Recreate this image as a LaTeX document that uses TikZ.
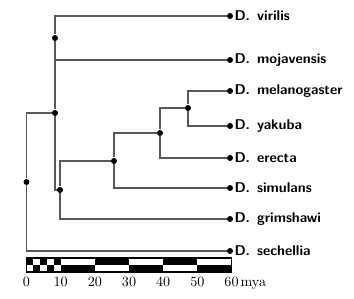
\documentclass[tikz,border=0pt]{standalone}
\usetikzlibrary{positioning}
\tikzset{every picture/.style={line width=0.75pt}}
\tikzset{
  branch/.style={draw=black!65, line width=1pt},
  knot/.style={circle, fill=black, inner sep=0pt, minimum size=4.5pt},
  taxon/.style={anchor=west, inner sep=0.75pt, font=\fontsize{10.6}{12}\sffamily\bfseries},
  tick/.style={inner sep=0.75pt, anchor=base, font=\fontsize{10.6}{12}\selectfont}
}

\begin{document}
\begin{tikzpicture}[x=0.75pt,y=0.75pt,yscale=-1,xscale=1]
        \useasboundingbox (0,0) rectangle (354,299);

        % tips
        \node [knot] (vir) at (230,16) {};
        \node [knot] (moj) at (230,60) {};
        \node [knot] (mel) at (230,91) {};
        \node [knot] (yak) at (230,126) {};
        \node [knot] (ere) at (230,158) {};
        \node [knot] (sim) at (230,188) {};
        \node [knot] (gri) at (230,219) {};
        \node [knot] (sec) at (230,251) {};

        \node [taxon] at (233,16) {D.\enspace virilis};
        \node [taxon] at (233,60) {D.\enspace mojavensis};
        \node [taxon] at (233,91) {D.\enspace melanogaster};
        \node [taxon] at (233,126) {D.\enspace yakuba};
        \node [taxon] at (233,158) {D.\enspace erecta};
        \node [taxon] at (233,188) {D.\enspace simulans};
        \node [taxon] at (233,219) {D.\enspace grimshawi};
        \node [taxon] at (233,251) {D.\enspace sechellia};

        % inner nodes
        \node [knot] (root) at (26.5,182) {};
        \node [knot] (nA) at (55,113) {};
        \node [knot] (nVM) at (55,38) {};
        \node [knot] (nB) at (60,190) {};
        \node [knot] (nC) at (114,161) {};
        \node [knot] (nD) at (160,133) {};
        \node [knot] (nE) at (188,108) {};

        % branches
        \draw [branch] (root) |- (nA);
        \draw [branch] (root) |- (sec);
        \draw [branch] (nA) -- (nVM);
        \draw [branch] (nA) |- (nB);
        \draw [branch] (nVM) |- (vir);
        \draw [branch] (nVM) |- (moj);
        \draw [branch] (nB) |- (nC);
        \draw [branch] (nB) |- (gri);
        \draw [branch] (nC) |- (nD);
        \draw [branch] (nC) |- (sim);
        \draw [branch] (nD) |- (nE);
        \draw [branch] (nD) |- (ere);
        \draw [branch] (nE) |- (mel);
        \draw [branch] (nE) |- (yak);

        % scale bar
        \foreach \a/\b in {0/2,4/6,8/10,20/30,40/50}
          \fill (26.5+3.417*\a,258) rectangle (26.5+3.417*\b,265);
        \foreach \a/\b in {2/4,6/8,10/20,30/40,50/60}
          \fill (26.5+3.417*\a,265) rectangle (26.5+3.417*\b,272);
        \draw [line width=1pt] (26.5,258) rectangle (231.5,272);

        \foreach \t in {0,10,...,50}
          \node [tick] at (26.5+3.417*\t,287) {\t};
        \node [tick] (t60) at (231.5,287) {60};
        \node [tick, anchor=base west, inner sep=0pt] at (t60.base east) {mya};
\end{tikzpicture}
\end{document}
